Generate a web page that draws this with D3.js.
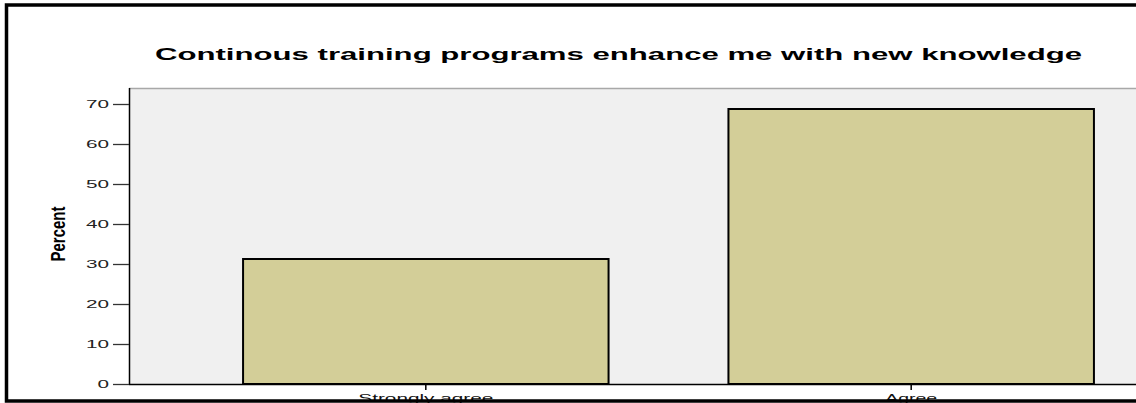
<!DOCTYPE html>
<html>
<head>
<meta charset="utf-8">
<script src="https://cdn.jsdelivr.net/npm/d3@7"></script>
<style>
  html, body { margin: 0; padding: 0; background: #ffffff; }
  svg { display: block; }
  text { font-family: "Liberation Sans", Arial, sans-serif; }
</style>
</head>
<body>
<svg id="chart" width="1136" height="403"></svg>
<script>
const title = "Continous training programs enhance me with new knowledge";
const yLabel = "Percent";
const categories = ["Strongly agree", "Agree"];
const percents = [31.25, 68.75];
const yTicks = [0, 10, 20, 30, 40, 50, 60, 70];
const yTickLabels = ["0", "10", "20", "30", "40", "50", "60", "70"];

const svg = d3.select("#chart");
const W = 1136, H = 403;

const plotLeft = 129, plotRight = 1208, plotTop = 88, plotBottom = 384;

const y = d3.scaleLinear().domain([0, 74]).range([plotBottom, plotTop]);
const x = d3.scaleBand().domain(categories).range([plotLeft, plotRight])
  .paddingInner(0.247).paddingOuter(0.235);

// plot background
svg.append("rect")
  .attr("x", plotLeft).attr("y", plotTop)
  .attr("width", plotRight - plotLeft).attr("height", plotBottom - plotTop)
  .attr("fill", "#f0f0f0");
svg.append("line")
  .attr("x1", plotLeft).attr("x2", plotRight)
  .attr("y1", plotTop + 0.5).attr("y2", plotTop + 0.5)
  .attr("stroke", "#a8a8a8").attr("stroke-width", 1.5);

// bars
svg.append("g").selectAll("rect")
  .data(categories.map((c, i) => ({ c, v: percents[i] })))
  .join("rect")
  .attr("x", d => x(d.c))
  .attr("y", d => y(d.v))
  .attr("width", x.bandwidth())
  .attr("height", d => y(0) - y(d.v))
  .attr("fill", "#d3ce98")
  .attr("stroke", "#000")
  .attr("stroke-width", 2);

// y axis
const yAxis = svg.append("g")
  .attr("transform", `translate(${plotLeft},0)`)
  .call(d3.axisLeft(y).tickValues(yTicks)
    .tickFormat((d, i) => yTickLabels[i]).tickSize(16).tickPadding(4));
yAxis.select(".domain").attr("stroke", "#000").attr("stroke-width", 1.5)
  .attr("d", `M0.5,${plotTop}V${plotBottom}`);
yAxis.selectAll(".tick line").attr("stroke", "#333").attr("stroke-width", 1.3);
yAxis.selectAll(".tick text")
  .attr("font-size", 10).attr("fill", "#222")
  .attr("textLength", (d, i) => yTickLabels[i].length * 11.5)
  .attr("lengthAdjust", "spacingAndGlyphs");

// x axis
const xAxis = svg.append("g")
  .attr("transform", `translate(0,${plotBottom})`)
  .call(d3.axisBottom(x).tickSize(6).tickPadding(4));
xAxis.select(".domain").attr("stroke", "#000").attr("stroke-width", 1.3)
  .attr("d", `M${plotLeft},0.5H${W}`);
xAxis.selectAll(".tick line").attr("stroke", "#000").attr("stroke-width", 1.5);
xAxis.selectAll(".tick text")
  .attr("font-size", 11).attr("fill", "#111")
  .attr("textLength", d => d === "Strongly agree" ? 135 : 52)
  .attr("lengthAdjust", "spacingAndGlyphs");

// title
svg.append("text")
  .attr("x", 618.5).attr("y", 60)
  .attr("text-anchor", "middle")
  .attr("font-size", 16).attr("font-weight", "bold").attr("fill", "#000")
  .attr("textLength", 927).attr("lengthAdjust", "spacingAndGlyphs")
  .text(title);

// y label
svg.append("text")
  .attr("transform", "translate(65,234) rotate(-90) scale(1,1.3)")
  .attr("text-anchor", "middle")
  .attr("font-size", 16).attr("font-weight", "bold").attr("fill", "#000")
  .attr("textLength", 55).attr("lengthAdjust", "spacingAndGlyphs")
  .text(yLabel);

// outer frame
svg.append("rect")
  .attr("x", 6.5).attr("y", 5)
  .attr("width", W + 20).attr("height", 396)
  .attr("fill", "none").attr("stroke", "#000").attr("stroke-width", 3.5);
</script>
</body>
</html>
